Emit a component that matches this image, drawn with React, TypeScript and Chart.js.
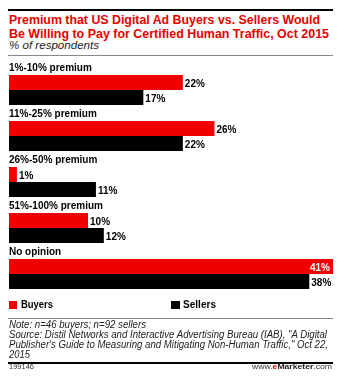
import React, { useEffect, useLayoutEffect, useRef } from "react";
import { Chart, registerables } from "chart.js";

Chart.register(...registerables);

const categories = ["1%-10% premium", "11%-25% premium", "26%-50% premium", "51%-100% premium", "No opinion"];
const buyers = [22, 26, 1, 10, 41];
const sellers = [17, 22, 11, 12, 38];
const seriesNames = ["Buyers", "Sellers"];
const xMax = 41;

const RED = "#f00000";
const BLACK = "#000000";
const FONT = "'Liberation Sans', Arial, sans-serif";

const labelPlugin = {
  id: "groupLabels",
  afterDatasetsDraw(chart: any) {
    const ctx = chart.ctx;
    const area = chart.chartArea;
    ctx.save();
    const m0 = chart.getDatasetMeta(0);
    categories.forEach((c, i) => {
      const bar = m0.data[i];
      const top = bar.y - bar.height / 2;
      ctx.font = "bold 10px " + FONT;
      ctx.fillStyle = "#000";
      ctx.textAlign = "left";
      ctx.textBaseline = "alphabetic";
      ctx.fillText(c, area.left, top - 4);
    });
    chart.data.datasets.forEach((ds: any, di: number) => {
      const meta = chart.getDatasetMeta(di);
      meta.data.forEach((bar: any, i: number) => {
        const v = ds.data[i];
        const txt = v + "%";
        ctx.font = "bold 10px " + FONT;
        ctx.textBaseline = "alphabetic";
        const w = ctx.measureText(txt).width;
        const base = bar.y + 4;
        if (bar.x + 3 + w > area.right + 2) {
          ctx.fillStyle = "#fff";
          ctx.textAlign = "right";
          ctx.fillText(txt, bar.x - 3, base);
        } else {
          ctx.fillStyle = "#000";
          ctx.textAlign = "left";
          ctx.fillText(txt, bar.x + 2, base);
        }
      });
    });
    ctx.restore();
  },
};

function Fit(props: { x: number; baseline: number; width: number; fs: number; style?: React.CSSProperties; children: React.ReactNode }) {
  const ref = useRef<HTMLSpanElement | null>(null);
  useLayoutEffect(() => {
    const el = ref.current;
    if (!el) return;
    el.style.transform = "none";
    const w = el.getBoundingClientRect().width;
    if (w > 0) el.style.transform = `scaleX(${props.width / w})`;
  }, []);
  return (
    <span
      ref={ref}
      style={{
        position: "absolute",
        left: props.x,
        top: props.baseline - 0.83 * props.fs,
        fontSize: props.fs,
        lineHeight: props.fs + "px",
        whiteSpace: "nowrap",
        display: "inline-block",
        transformOrigin: "left top",
        ...props.style,
      }}
    >
      {props.children}
    </span>
  );
}

export default function App() {
  const ref = useRef<HTMLCanvasElement | null>(null);
  useEffect(() => {
    if (!ref.current) return;
    const chart = new Chart(ref.current, {
      type: "bar",
      data: {
        labels: categories,
        datasets: [
          { label: seriesNames[0], data: buyers, backgroundColor: RED, categoryPercentage: 30 / 46, barPercentage: 1 },
          { label: seriesNames[1], data: sellers, backgroundColor: BLACK, categoryPercentage: 30 / 46, barPercentage: 1 },
        ],
      },
      options: {
        indexAxis: "y",
        responsive: false,
        animation: false,
        layout: { padding: { top: 11, bottom: 4, left: 9, right: 18 } },
        plugins: { legend: { display: false }, tooltip: { enabled: false }, title: { display: false } },
        scales: {
          x: { display: false, min: 0, max: xMax },
          y: { display: false },
        },
      },
      plugins: [labelPlugin],
    });
    return () => chart.destroy();
  }, []);

  const rule = (top: number, h: number, color: string): React.CSSProperties => ({
    position: "absolute",
    top,
    left: 8,
    width: 325,
    height: h,
    background: color,
  });

  const titleStyle: React.CSSProperties = { color: "#e60000", fontWeight: "bold" };
  const noteStyle: React.CSSProperties = { fontStyle: "italic", color: "#222" };

  return (
    <div style={{ position: "absolute", left: 0, top: 0, width: 351, height: 385, background: "#fff", fontFamily: FONT, overflow: "hidden" }}>
      <div style={rule(9, 2, "#000")} />
      <Fit x={9} baseline={24} width={311} fs={13} style={titleStyle}>Premium that US Digital Ad Buyers vs. Sellers Would</Fit>
      <Fit x={9} baseline={38} width={320} fs={13} style={titleStyle}>Be Willing to Pay for Certified Human Traffic, Oct 2015</Fit>
      <Fit x={9} baseline={49} width={90} fs={11} style={{ fontStyle: "italic", color: "#222" }}>% of respondents</Fit>
      <div style={rule(55, 1, "#888")} />
      <canvas ref={ref} width={351} height={245} style={{ position: "absolute", left: 0, top: 56 }} />
      <span style={{ position: "absolute", left: 9, top: 301, width: 8, height: 8, background: RED }} />
      <Fit x={21} baseline={308} width={32} fs={10} style={{ fontWeight: "bold" }}>{seriesNames[0]}</Fit>
      <span style={{ position: "absolute", left: 171, top: 301, width: 9, height: 8, background: BLACK }} />
      <Fit x={183} baseline={308} width={33} fs={10} style={{ fontWeight: "bold" }}>{seriesNames[1]}</Fit>
      <div style={rule(318, 1, "#888")} />
      <Fit x={9} baseline={328} width={137} fs={10} style={noteStyle}>Note: n=46 buyers; n=92 sellers</Fit>
      <Fit x={9} baseline={338} width={318} fs={10} style={noteStyle}>Source: Distil Networks and Interactive Advertising Bureau (IAB), "A Digital</Fit>
      <Fit x={9} baseline={348} width={319} fs={10} style={noteStyle}>Publisher's Guide to Measuring and Mitigating Non-Human Traffic," Oct 22,</Fit>
      <Fit x={9} baseline={358} width={21} fs={10} style={noteStyle}>2015</Fit>
      <div style={rule(362, 2, "#000")} />
      <Fit x={9} baseline={370} width={25} fs={8} style={{ color: "#333" }}>199146</Fit>
      <Fit x={252} baseline={370} width={80} fs={8} style={{ color: "#333" }}>
        www.<span style={{ color: RED, fontWeight: "bold" }}>e</span><span style={{ fontWeight: "bold", color: "#222" }}>Marketer</span>.com
      </Fit>
    </div>
  );
}
